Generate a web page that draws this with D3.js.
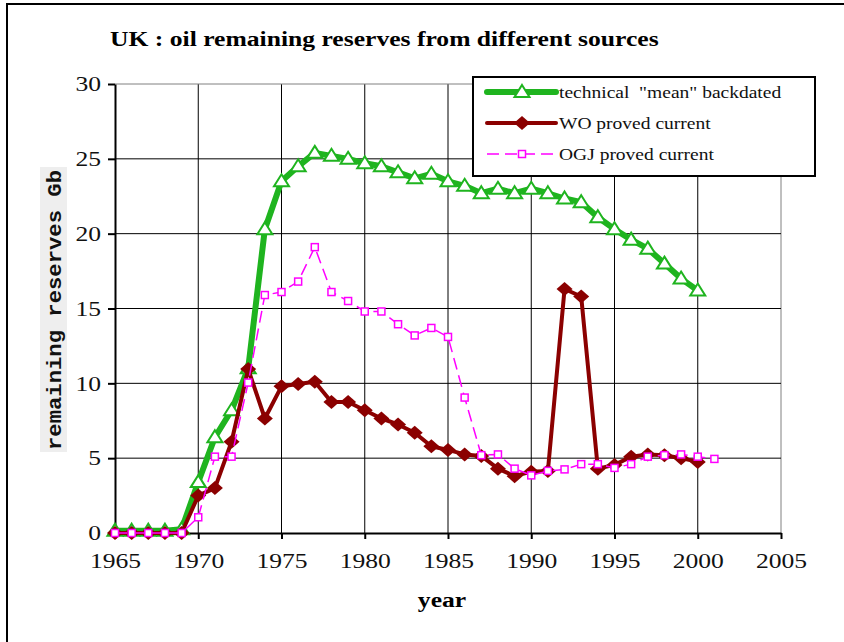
<!DOCTYPE html>
<html>
<head>
<meta charset="utf-8">
<script src="https://cdn.jsdelivr.net/npm/d3@7"></script>
<style>
  body { margin: 0; background: #fff; }
  text { font-family: "Liberation Serif", "Times New Roman", serif; }
</style>
</head>
<body>
<div id="plot"></div>
<script>
// Data (Gb)
var years = d3.range(1965, 2001);
var yearsOgj = d3.range(1965, 2002);
var technicalMean = [0.15, 0.15, 0.15, 0.15, 0.25, 3.4, 6.4, 8.2, 11.0, 20.3,
    23.5, 24.5, 25.4, 25.2, 25.0, 24.7, 24.5, 24.1, 23.7, 24.0,
    23.5, 23.2, 22.7, 23.0, 22.7, 23.0, 22.7, 22.35, 22.1, 21.1,
    20.3, 19.6, 19.0, 18.0, 17.0, 16.2];
var woProved = [0, 0, 0, 0, 0, 2.5, 3.0, 6.1, 10.95, 7.65,
    9.8, 9.95, 10.1, 8.75, 8.75, 8.2, 7.65, 7.25, 6.7, 5.8,
    5.55, 5.25, 5.15, 4.3, 3.8, 4.1, 4.15, 16.3, 15.8, 4.3,
    4.55, 5.1, 5.25, 5.2, 5.0, 4.75];
var ogjProved = [0, 0, 0, 0, 0, 1.05, 5.1, 5.1, 10.05, 15.9,
    16.1, 16.8, 19.1, 16.1, 15.5, 14.8, 14.8, 13.95, 13.2, 13.7,
    13.1, 9.05, 5.2, 5.25, 4.3, 3.85, 4.15, 4.25, 4.6, 4.6,
    4.35, 4.6, 5.1, 5.2, 5.25, 5.1, 4.95];
var xTicks = [1965, 1970, 1975, 1980, 1985, 1990, 1995, 2000, 2005];
var yTicks = [0, 5, 10, 15, 20, 25, 30];
var seriesNames = ['technical  "mean" backdated', "WO proved current", "OGJ proved current"];

// the original picture is stretched sideways, so the text is too
var stretch = 1.22;
function widen(sel) {
    sel.each(function() {
        var t = d3.select(this);
        var tx = +t.attr("x") || 0, ty = +t.attr("y") || 0;
        t.attr("x", 0).attr("y", 0)
            .attr("transform", "translate(" + tx + "," + ty + ") scale(" + stretch + ",1)");
    });
}

// Dimensions
var margin = {top: 84, right: 63, bottom: 109, left: 115},
    width = 844 - margin.left - margin.right,
    height = 642 - margin.top - margin.bottom;

var root = d3.select("#plot")
    .append("svg")
        .attr("width", 844)
        .attr("height", 642);

// outer frame
root.append("rect")
    .attr("x", 7).attr("y", 4)
    .attr("width", 850).attr("height", 660)
    .attr("fill", "none")
    .attr("stroke", "#000")
    .attr("stroke-width", 2);

root.append("text")
    .attr("x", 110)
    .attr("y", 46)
    .style("font-size", "21px")
    .style("font-weight", "bold")
    .text("UK : oil remaining reserves from different sources")
    .call(widen);

var svg = root.append("g")
    .attr("transform", "translate(" + margin.left + "," + margin.top + ")");

var x = d3.scaleLinear().domain([1965, 2005]).range([0, width]);
var y = d3.scaleLinear().domain([0, 30]).range([height, 0]);

// Gridlines
svg.append("g")
    .selectAll("line")
    .data(xTicks.slice(1))
    .enter().append("line")
        .attr("x1", function(d) { return x(d); })
        .attr("x2", function(d) { return x(d); })
        .attr("y1", 0)
        .attr("y2", height)
        .attr("stroke", function(d) { return d == 2005 ? "#808080" : "#000"; })
        .attr("stroke-width", 1);
svg.append("g")
    .selectAll("line")
    .data(yTicks.slice(1))
    .enter().append("line")
        .attr("x1", 0)
        .attr("x2", width)
        .attr("y1", function(d) { return y(d); })
        .attr("y2", function(d) { return y(d); })
        .attr("stroke", function(d) { return d == 30 ? "#808080" : "#000"; })
        .attr("stroke-width", 1);

// Axes
var xAxis = svg.append("g")
    .attr("transform", "translate(0," + height + ")")
    .call(d3.axisBottom(x).tickValues(xTicks).tickFormat(d3.format("d"))
        .tickSize(6).tickSizeOuter(0).tickPadding(14));
var yAxis = svg.append("g")
    .call(d3.axisLeft(y).tickValues(yTicks).tickSize(7).tickSizeOuter(0).tickPadding(7));
[xAxis, yAxis].forEach(function(a) {
    a.select(".domain").attr("stroke", "#000").attr("stroke-width", 2);
    a.selectAll(".tick line").attr("stroke", "#000").attr("stroke-width", 2);
    a.selectAll("text")
        .attr("fill", "#111")
        .style("font-family", '"Liberation Serif", serif')
        .style("font-size", "21px")
        .call(widen);
});

// Axis titles
root.append("text")
    .attr("x", 442)
    .attr("y", 607)
    .style("text-anchor", "middle")
    .style("font-size", "21px")
    .style("font-weight", "bold")
    .text("year")
    .call(widen);
root.append("rect")
    .attr("x", 40).attr("y", 167)
    .attr("width", 27).attr("height", 285)
    .attr("fill", "#eeeeee");
root.append("text")
    .attr("transform", "translate(61,310) rotate(-90)")
    .style("text-anchor", "middle")
    .style("font-family", '"Liberation Mono", monospace')
    .style("font-size", "21px")
    .style("font-weight", "bold")
    .attr("textLength", 280)
    .attr("lengthAdjust", "spacingAndGlyphs")
    .attr("fill", "#111")
    .text("remaining reserves Gb");

// Series
var green = "#1fb41f", darkRed = "#8b0000", magenta = "#ff00ff";
var triangle = "M0,-7L7.5,5L-7.5,5Z";
var diamond = "M0,-7L8,0L0,7L-8,0Z";

function pts(xs, ys) {
    return xs.map(function(d, i) { return [d, ys[i]]; });
}
var line = d3.line()
    .x(function(d) { return x(d[0]); })
    .y(function(d) { return y(d[1]); });

var techData = pts(years, technicalMean);
var woData = pts(years, woProved);
var ogjData = pts(yearsOgj, ogjProved);

svg.append("path")
    .datum(techData)
    .attr("d", line)
    .attr("fill", "none")
    .attr("stroke", green)
    .attr("stroke-width", 6)
    .attr("stroke-linejoin", "round");
svg.append("g")
    .selectAll("path")
    .data(techData)
    .enter().append("path")
        .attr("transform", function(d) { return "translate(" + x(d[0]) + "," + y(d[1]) + ")"; })
        .attr("d", triangle)
        .attr("fill", "#fff")
        .attr("stroke", green)
        .attr("stroke-width", 2);

svg.append("path")
    .datum(woData)
    .attr("d", line)
    .attr("fill", "none")
    .attr("stroke", darkRed)
    .attr("stroke-width", 4)
    .attr("stroke-linejoin", "round");
svg.append("g")
    .selectAll("path")
    .data(woData)
    .enter().append("path")
        .attr("transform", function(d) { return "translate(" + x(d[0]) + "," + y(d[1]) + ")"; })
        .attr("d", diamond)
        .attr("fill", darkRed);

svg.append("path")
    .datum(ogjData)
    .attr("d", line)
    .attr("fill", "none")
    .attr("stroke", magenta)
    .attr("stroke-width", 1.5)
    .attr("stroke-dasharray", "12,6");
svg.append("g")
    .selectAll("rect")
    .data(ogjData)
    .enter().append("rect")
        .attr("x", function(d) { return x(d[0]) - 3.5; })
        .attr("y", function(d) { return y(d[1]) - 3.5; })
        .attr("width", 7)
        .attr("height", 7)
        .attr("fill", "#fff")
        .attr("stroke", magenta)
        .attr("stroke-width", 1.5);

// Legend
var legend = root.append("g");
legend.append("rect")
    .attr("x", 473).attr("y", 77)
    .attr("width", 342).attr("height", 99)
    .attr("fill", "#fff")
    .attr("stroke", "#000")
    .attr("stroke-width", 2);
var rows = [92, 123, 154];
var styles = [
    {color: green, w: 6, dash: null},
    {color: darkRed, w: 4, dash: null},
    {color: magenta, w: 1.5, dash: "12,6"}
];
seriesNames.forEach(function(name, i) {
    legend.append("line")
        .attr("x1", 487).attr("x2", 556)
        .attr("y1", rows[i]).attr("y2", rows[i])
        .attr("stroke", styles[i].color)
        .attr("stroke-width", styles[i].w)
        .attr("stroke-linecap", i < 2 ? "round" : "butt")
        .attr("stroke-dasharray", styles[i].dash);
    legend.append("text")
        .attr("x", 559)
        .attr("y", rows[i] + 6)
        .style("font-size", "16px")
        .style("white-space", "pre")
        .attr("fill", "#111")
        .text(name)
        .call(widen);
});
legend.append("path")
    .attr("transform", "translate(522," + rows[0] + ")")
    .attr("d", triangle)
    .attr("fill", "#fff")
    .attr("stroke", green)
    .attr("stroke-width", 2);
legend.append("path")
    .attr("transform", "translate(522," + rows[1] + ")")
    .attr("d", diamond)
    .attr("fill", darkRed);
legend.append("rect")
    .attr("x", 518.5).attr("y", rows[2] - 3.5)
    .attr("width", 7).attr("height", 7)
    .attr("fill", "#fff")
    .attr("stroke", magenta)
    .attr("stroke-width", 1.5);
</script>
</body>
</html>
